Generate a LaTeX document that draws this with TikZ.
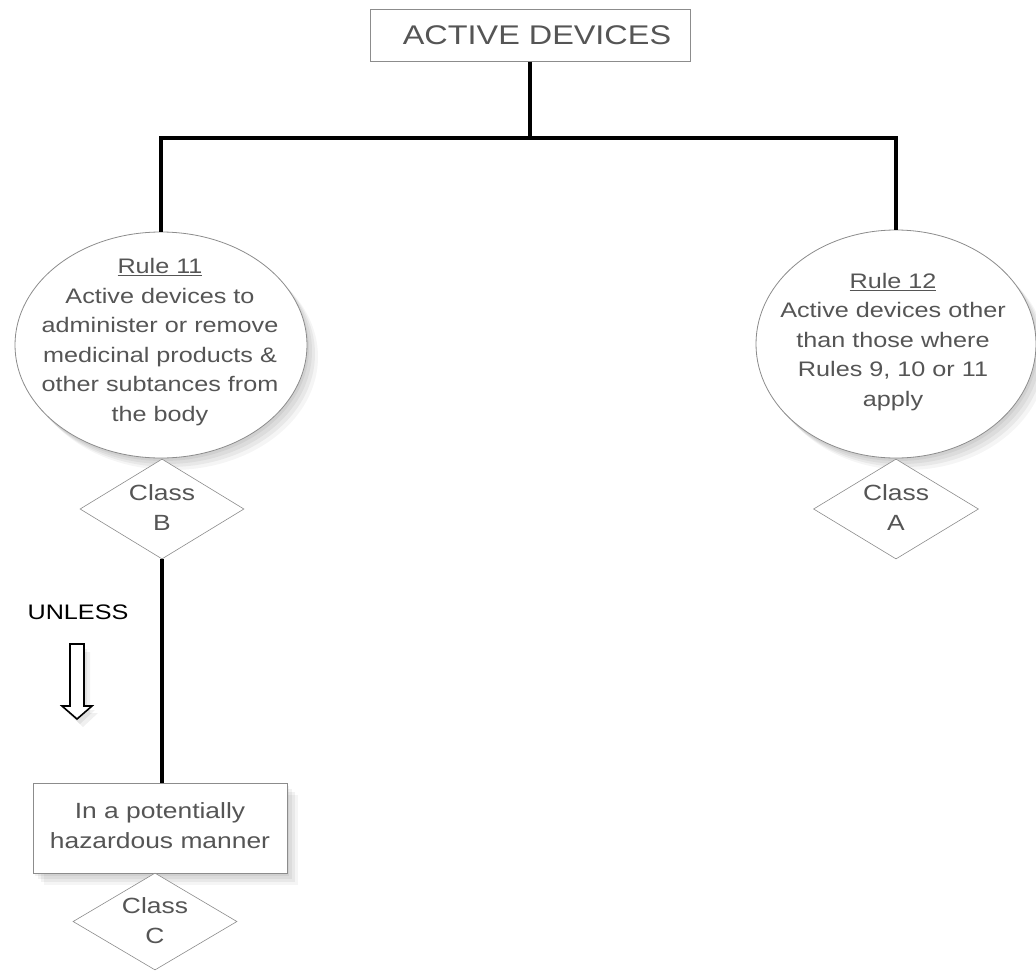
\documentclass[tikz,border=0pt]{standalone}
\usepackage{fontspec}
\setmainfont{Liberation Sans}[FakeStretch=1.2]
\usetikzlibrary{shapes.geometric,shadows}
\definecolor{txt}{HTML}{555555}
\definecolor{edge}{HTML}{8C8C8C}
\begin{document}
\begin{tikzpicture}[x=1pt,y=-1pt,
  soft/.style={
    general shadow={fill=black,opacity=.05,shadow xshift=2pt,shadow yshift=-3pt},
    general shadow={fill=black,opacity=.05,shadow xshift=5pt,shadow yshift=-6pt},
    general shadow={fill=black,opacity=.05,shadow xshift=8pt,shadow yshift=-9pt},
    general shadow={fill=black,opacity=.04,shadow xshift=11pt,shadow yshift=-12pt}},
  connector/.style={line width=3.2pt,black},
  rulebox/.style={ellipse,draw=edge,line width=0.8pt,fill=white,inner sep=0pt,soft},
  clsbox/.style={diamond,draw=edge,line width=0.6pt,fill=white,inner sep=0pt},
  rectbox/.style={rectangle,draw=edge,line width=1pt,fill=white,inner sep=0pt},
  lbl/.style={text=txt,font=\fontsize{21}{29.5}\selectfont,align=center,inner sep=0pt},
  clslbl/.style={text=txt,font=\fontsize{22}{30}\selectfont,align=center,inner sep=0pt}]
\useasboundingbox (0,0) rectangle (1036,972);
\fill[white] (0,0) rectangle (1036,972);

% top box
\node[rectbox,minimum width=320pt,minimum height=52pt] (top) at (530,35) {};
\node[text=txt,font=\fontsize{27}{30}\selectfont,inner sep=0pt] (toptxt) at (537,35) {ACTIVE DEVICES};

% ellipses
\node[rulebox,minimum width=292pt,minimum height=226pt] (L) at (161,345) {};
\node[lbl] (Ltxt) at (160,342) {\underline{Rule 11}\\Active devices to\\administer or remove\\medicinal products \&\\other subtances from\\the body};
\node[rulebox,minimum width=280pt,minimum height=228pt] (R) at (896,344) {};
\node[lbl] (Rtxt) at (893,342) {\underline{Rule 12}\\Active devices other\\than those where\\Rules 9, 10 or 11\\apply};

% diamonds
\node[clsbox,minimum width=164pt,minimum height=100pt] (dB) at (162,509) {};
\node[clslbl] (dBt) at (162,508) {Class\\B};
\node[clsbox,minimum width=165pt,minimum height=100pt] (dA) at (896,509) {};
\node[clslbl] (dAt) at (896,508) {Class\\A};

% bottom box
\node[rectbox,soft,minimum width=254pt,minimum height=90pt] (boxC) at (160,828) {};
\node[lbl,font=\fontsize{22}{30}\selectfont] (boxCt) at (160,826) {In a potentially\\hazardous manner};
\node[clsbox,minimum width=164pt,minimum height=97pt] (dC) at (155,921.5) {};
\node[clslbl] (dCt) at (155,921) {Class\\C};

% connectors
\coordinate (bus) at (0,138);
\draw[connector] (top.south) -- (top.south |- bus) -| (L.north);
\draw[connector] (top.south |- bus) -| (R.north);
\draw[connector] (dB.south) -- (dB.south |- boxC.north);

% UNLESS and arrow
\node[font=\fontsize{21}{24}\selectfont,inner sep=0pt] (unless) at (78,612) {UNLESS};
\fill[black,opacity=.06] (73,649) -- (87,649) -- (87,710) -- (95,710) -- (80,724) -- (65,710) -- (73,710) -- cycle;
\fill[black,opacity=.06] (76,652) -- (90,652) -- (90,713) -- (98,713) -- (83,727) -- (68,713) -- (76,713) -- cycle;
\draw[line width=1.6pt,fill=white,line join=miter] (70,644) -- (84,644) -- (84,706) -- (92,706) -- (77,719) -- (62,706) -- (70,706) -- cycle;
\end{tikzpicture}
\end{document}
